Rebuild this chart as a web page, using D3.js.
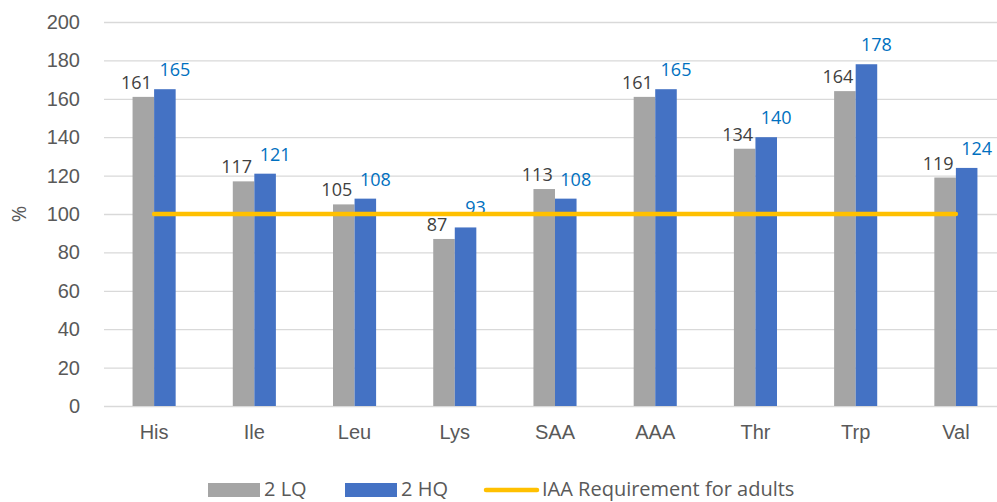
<!DOCTYPE html>
<html>
<head>
<meta charset="utf-8">
<script src="https://cdn.jsdelivr.net/npm/d3@7"></script>
<style>
  body { margin: 0; background: #fff; }
  svg { font-family: "Open Sans", sans-serif; }
  .tick text { fill: #595959; font-size: 20px; }
  .label-lq { fill: #404040; font-size: 18px; }
  .label-hq { fill: #0070C0; font-size: 18px; }
  .legend text { fill: #595959; font-size: 20px; }
</style>
</head>
<body>
<svg></svg>
<script>
const categories = ["His", "Ile", "Leu", "Lys", "SAA", "AAA", "Thr", "Trp", "Val"]
const lq = [161, 117, 105, 87, 113, 161, 134, 164, 119]
const hq = [165, 121, 108, 93, 108, 165, 140, 178, 124]
const requirement = 100
const seriesNames = ["2 LQ", "2 HQ", "IAA Requirement for adults"]
const yTicks = [0, 20, 40, 60, 80, 100, 120, 140, 160, 180, 200]

const width = 997, height = 502

const svg = d3.select("svg")
  .attr("width", width)
  .attr("height", height)

const x = d3.scaleBand()
  .domain(categories)
  .range([104, 1006])
  .paddingInner(0.57)
  .paddingOuter(0.285)

const xInner = d3.scaleBand()
  .domain(["lq", "hq"])
  .range([0, x.bandwidth()])

const y = d3.scaleLinear()
  .domain([0, 200])
  .range([406, 22])

// gridlines + y tick labels
const yAxis = svg.append("g")
  .attr("transform", "translate(104,0)")
  .call(d3.axisLeft(y).tickValues(yTicks).tickSize(-(1006 - 104)).tickPadding(24))

yAxis.select(".domain").remove()
yAxis.selectAll(".tick line").attr("stroke", "#d9d9d9").attr("stroke-width", 1.3)

// x axis labels
const xAxis = svg.append("g")
  .attr("transform", "translate(0,406)")
  .call(d3.axisBottom(x).tickSize(0).tickPadding(19))
xAxis.select(".domain").remove()

svg.append("text")
  .attr("transform", "translate(26,214) rotate(-90)")
  .attr("text-anchor", "middle")
  .attr("fill", "#595959")
  .style("font-size", "20px")
  .text("%")

const rows = categories.map((c, i) => ({cat: c, lq: lq[i], hq: hq[i]}))

const groups = svg.selectAll("g.group")
  .data(rows)
  .enter()
  .append("g")
  .attr("class", "group")
  .attr("transform", d => `translate(${x(d.cat)},0)`)

groups.append("rect")
  .attr("x", xInner("lq"))
  .attr("y", d => y(d.lq))
  .attr("width", xInner.bandwidth())
  .attr("height", d => y(0) - y(d.lq))
  .attr("fill", "#A5A5A5")

groups.append("rect")
  .attr("x", xInner("hq"))
  .attr("y", d => y(d.hq))
  .attr("width", xInner.bandwidth())
  .attr("height", d => y(0) - y(d.hq))
  .attr("fill", "#4472C4")

// requirement line
svg.append("line")
  .attr("x1", x(categories[0]) + x.bandwidth() / 2)
  .attr("x2", x(categories[categories.length - 1]) + x.bandwidth() / 2)
  .attr("y1", y(requirement))
  .attr("y2", y(requirement))
  .attr("stroke", "#FFC000")
  .attr("stroke-width", 4.5)
  .attr("stroke-linecap", "round")

groups.append("text")
  .attr("class", "label-lq")
  .attr("x", xInner("lq") + xInner.bandwidth() / 2 - 7)
  .attr("y", d => y(d.lq) - 8)
  .attr("text-anchor", "middle")
  .text(d => d.lq)

groups.append("text")
  .attr("class", "label-hq")
  .attr("x", xInner("hq") + xInner.bandwidth() / 2 + 10)
  .attr("y", d => y(d.hq) - 13)
  .attr("text-anchor", "middle")
  .text(d => d.hq)

// legend
const legend = svg.append("g").attr("class", "legend")

legend.append("rect").attr("x", 208).attr("y", 483).attr("width", 52).attr("height", 14).attr("fill", "#A5A5A5")
legend.append("text").attr("x", 264).attr("y", 496).text(seriesNames[0])

legend.append("rect").attr("x", 345).attr("y", 483).attr("width", 52).attr("height", 14).attr("fill", "#4472C4")
legend.append("text").attr("x", 401).attr("y", 496).text(seriesNames[1])

legend.append("line").attr("x1", 486).attr("x2", 537).attr("y1", 490).attr("y2", 490)
  .attr("stroke", "#FFC000").attr("stroke-width", 4.5).attr("stroke-linecap", "round")
legend.append("text").attr("x", 542).attr("y", 496).text(seriesNames[2])
</script>
</body>
</html>
